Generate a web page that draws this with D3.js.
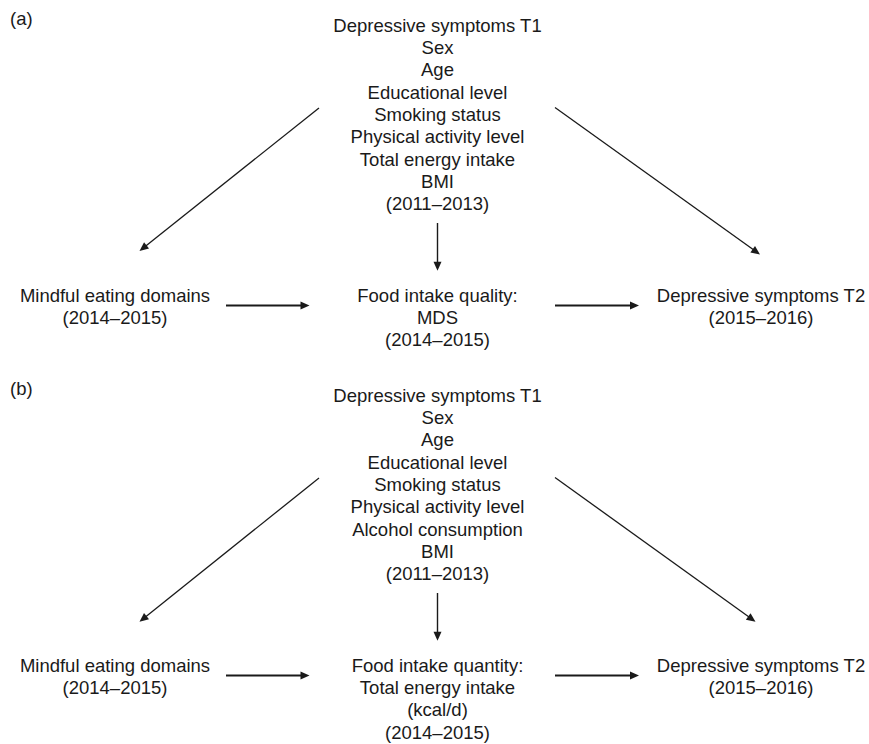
<!DOCTYPE html>
<html>
<head>
<meta charset="utf-8">
<script src="https://cdn.jsdelivr.net/npm/d3@7"></script>
<style>
  html, body { margin: 0; padding: 0; background: #fff; }
  svg { display: block; }
  text { font-family: "Liberation Sans", Arial, sans-serif; font-size: 18.5px; fill: #1a1a1a; }
</style>
</head>
<body>
<svg id="chart" width="869" height="744"></svg>
<script>
// ---- data ----
const panelLabels = ["(a)", "(b)"];
const covariatesA = ["Depressive symptoms T1", "Sex", "Age", "Educational level", "Smoking status",
  "Physical activity level", "Total energy intake", "BMI", "(2011\u20132013)"];
const covariatesB = ["Depressive symptoms T1", "Sex", "Age", "Educational level", "Smoking status",
  "Physical activity level", "Alcohol consumption", "BMI", "(2011\u20132013)"];
const exposureLines = ["Mindful eating domains", "(2014\u20132015)"];
const mediatorA = ["Food intake quality:", "MDS", "(2014\u20132015)"];
const mediatorB = ["Food intake quantity:", "Total energy intake", "(kcal/d)", "(2014\u20132015)"];
const outcomeLines = ["Depressive symptoms T2", "(2015\u20132016)"];

const panels = [
  { label: panelLabels[0], covariates: covariatesA, mediator: mediatorA },
  { label: panelLabels[1], covariates: covariatesB, mediator: mediatorB }
];

// ---- layout ----
const svg = d3.select("#chart");
const lineH = 22.3;
const panelY = d3.scaleOrdinal().domain([0, 1]).range([0, 370]);
const colX = { left: 115, mid: 437.5, right: 761 };

function textBlock(g, lines, x, yFirstBaseline) {
  g.append("text")
    .attr("text-anchor", "middle")
    .selectAll("tspan")
    .data(lines)
    .join("tspan")
    .attr("x", x)
    .attr("y", (d, i) => yFirstBaseline + i * lineH)
    .text(d => d);
}

function arrow(g, x1, y1, x2, y2, w, headL, headW) {
  const dx = x2 - x1, dy = y2 - y1, len = Math.hypot(dx, dy);
  const ux = dx / len, uy = dy / len;
  const bx = x2 - ux * headL, by = y2 - uy * headL;
  g.append("line")
    .attr("x1", x1).attr("y1", y1).attr("x2", bx + ux).attr("y2", by + uy)
    .attr("stroke", "#1a1a1a").attr("stroke-width", w);
  const pts = [[x2, y2], [bx - uy * headW / 2, by + ux * headW / 2], [bx + uy * headW / 2, by - ux * headW / 2]];
  g.append("path").attr("d", d3.line()(pts) + "Z").attr("fill", "#1a1a1a");
}

panels.forEach((p, i) => {
  const g = svg.append("g").attr("transform", `translate(0,${panelY(i)})`);
  g.append("text").attr("x", 10).attr("y", 24.5).text(p.label);
  textBlock(g, p.covariates, colX.mid, 31.7);
  textBlock(g, exposureLines, colX.left, 301.8);
  textBlock(g, p.mediator, colX.mid, 301.8);
  textBlock(g, outcomeLines, colX.right, 301.8);

  // covariates -> exposure / outcome / mediator
  arrow(g, 319, 108, 139.5, i === 0 ? 251 : 251.7, 1.3, 9, 8);
  arrow(g, 555, 107.5, i === 0 ? 760 : 755.5, i === 0 ? 254.5 : 251.7, 1.3, 9, 8);
  arrow(g, colX.mid, 223, colX.mid, 270.7, 1.4, 9, 8);
  // exposure -> mediator -> outcome
  arrow(g, 226, 305.5, 309.5, 305.5, 1.8, 9, 8);
  arrow(g, 555, 305.5, 639, 305.5, 1.8, 9, 8);
});
</script>
</body>
</html>
